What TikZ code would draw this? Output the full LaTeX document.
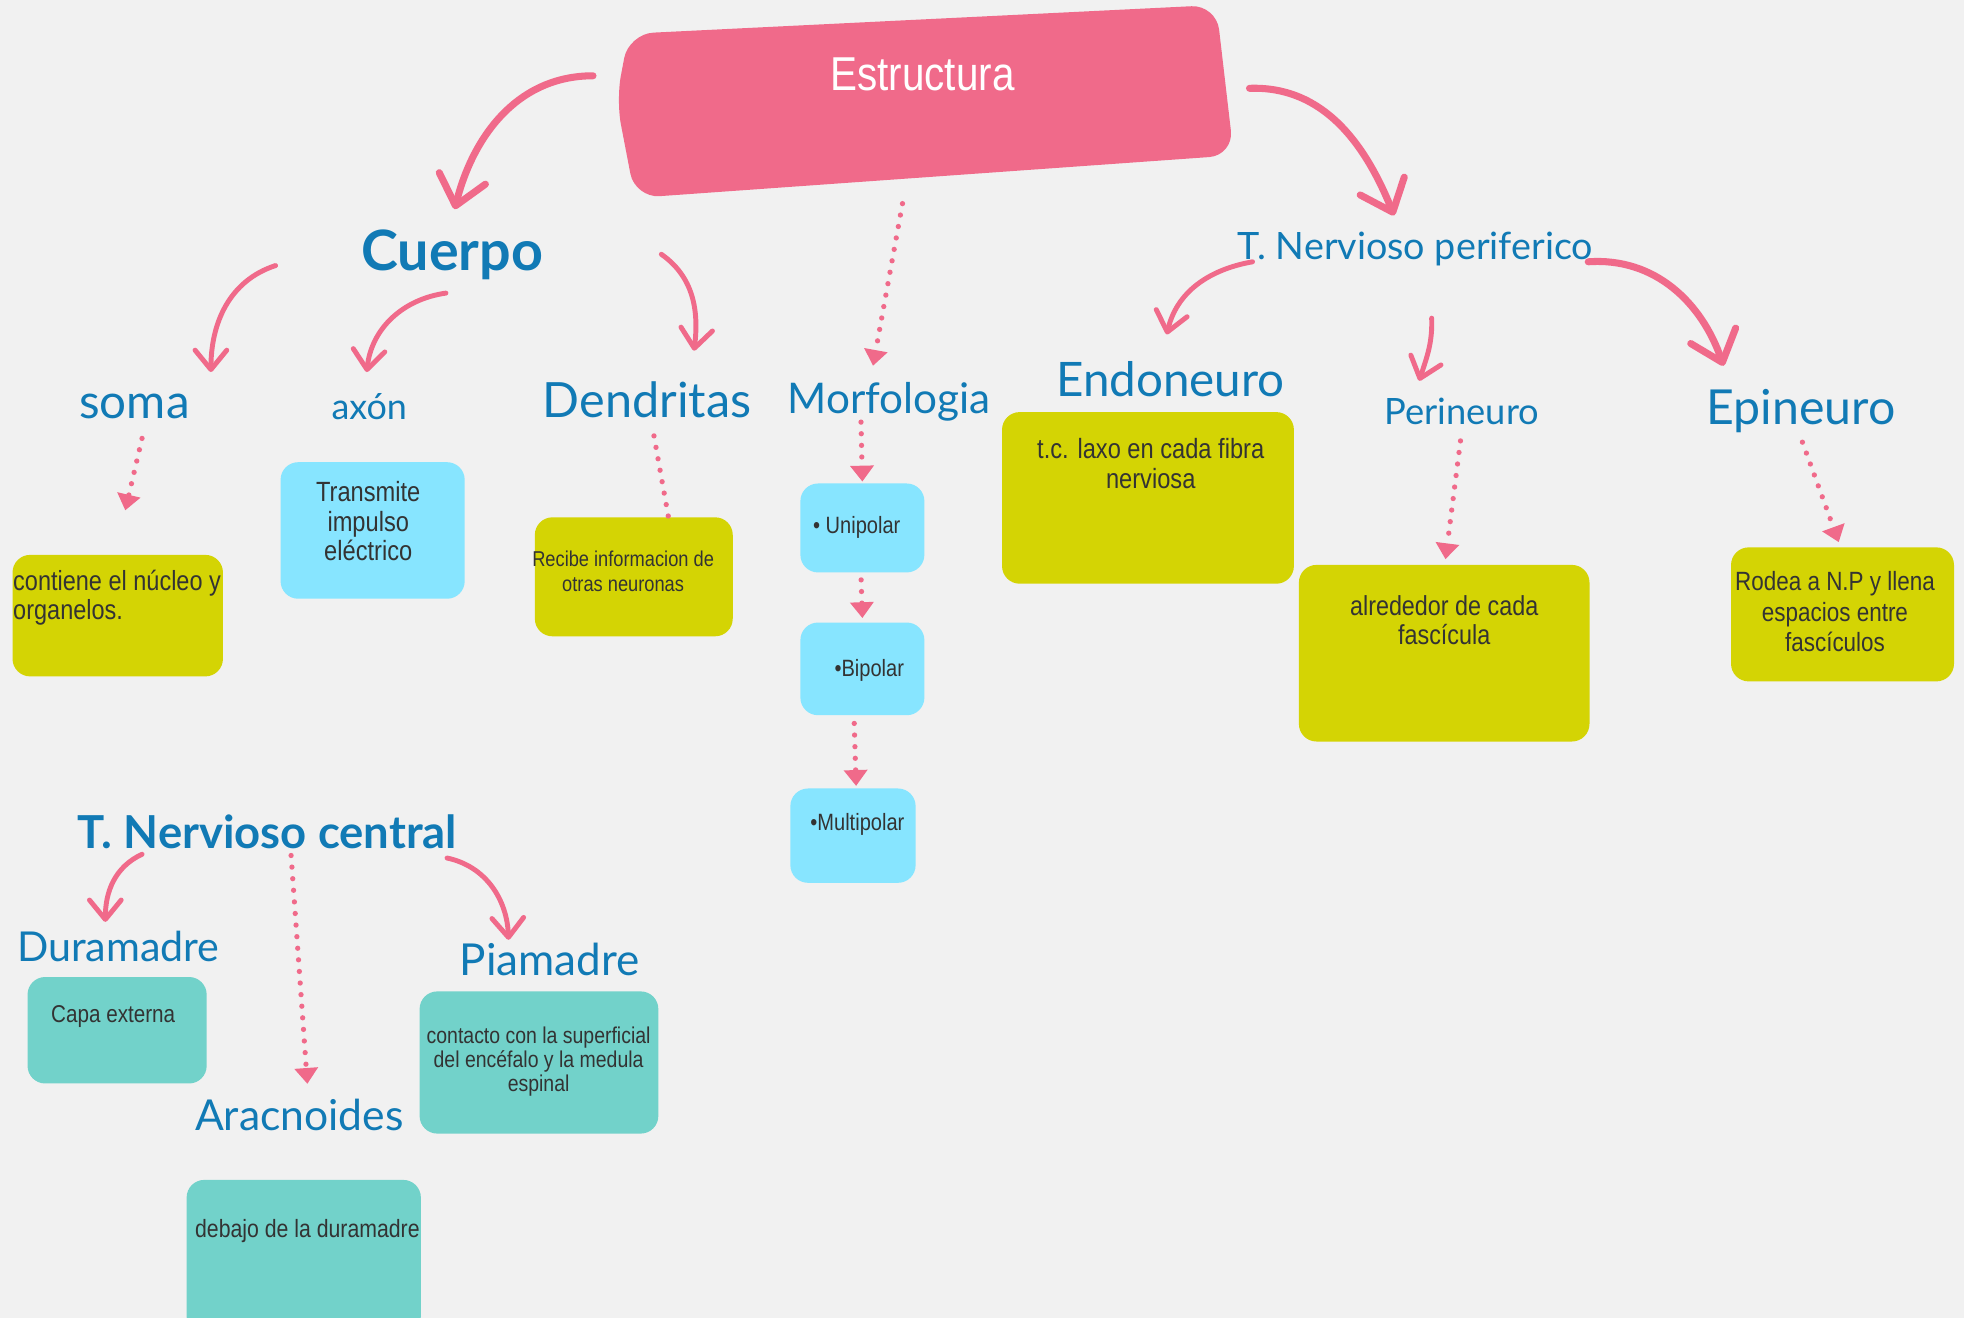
\documentclass[tikz,border=0pt]{standalone}
\usepackage{fontspec}
\usepackage{xcolor}
\usepackage{tikz}
\usetikzlibrary{arrows.meta, fit}
\newfontfamily\headfont{Lato}
\newfontfamily\bodyfont[FakeStretch=0.85]{Liberation Sans}
\definecolor{bgc}{RGB}{241,241,241}
\definecolor{pinkc}{RGB}{240,106,138}
\definecolor{bluec}{RGB}{17,122,181}
\definecolor{yellowc}{RGB}{212,212,4}
\definecolor{cyanc}{RGB}{135,229,255}
\definecolor{tealc}{RGB}{114,210,202}
\definecolor{darkc}{RGB}{51,51,51}
\newcommand{\hsz}[1]{\headfont\fontsize{#1}{#1}\selectfont}
\newcommand{\bsz}[2]{\bodyfont\fontsize{#1}{#2}\selectfont}

\begin{document}
\begin{tikzpicture}[x=0.125mm, y=-0.125mm,
	lbl/.style={inner sep=0pt, anchor=base, text=bluec},
	txt/.style={inner sep=0pt, text=darkc, align=center},
	ybox/.style={fill=yellowc, inner sep=0pt, rounded corners=5pt},
	cbox/.style={fill=cyanc, inner sep=0pt, rounded corners=5pt},
	tbox/.style={fill=tealc, inner sep=0pt, rounded corners=5pt},
	curvy/.style={draw=pinkc, line width=1.4pt, line cap=round, -{Straight Barb[length=5.5pt,width=9pt,round]}},
	bigcurvy/.style={curvy, line width=2pt, -{Straight Barb[length=8pt,width=13.5pt,round]}},
	dots/.style={draw=pinkc, line width=1.5pt, line cap=round, dash pattern=on 0pt off 3.3pt, -{Triangle[length=4.5pt,width=6.5pt]}}]
		\path[use as bounding box, fill=bgc] (0,0) rectangle (1568,1052);
		
		%% top box
		\fill[pinkc, rounded corners=7pt] (502,27) -- (971,4) -- (985,124) -- (507,158) -- (492,80) -- cycle;
		\node[inner sep=0pt, fit={(492,4) (985,158)}] (estrbox) {};
		\node[inner sep=0pt, anchor=base, text=white, font=\bsz{13.5}{14}] (estr) at (736.5,72.4) {Estructura};
		
		\node[lbl, font=\hsz{15.8}\bfseries] (cuerpo) at (361,216) {Cuerpo};
		\node[lbl, font=\hsz{13.5}] (soma) at (107.4,334.5) {soma};
		\node[lbl, font=\hsz{10.2}] (axon) at (294.8,334.6) {axón};
		\node[lbl, font=\hsz{13.8}] (dend) at (516.6,333.6) {Dendritas};
		\node[lbl, font=\hsz{12}] (morf) at (710,330) {Morfologia};
		\node[lbl, font=\hsz{10.7}] (tnp) at (1130,207) {T. Nervioso periferico};
		\node[lbl, font=\hsz{13.5}] (endo) at (934.5,316.6) {Endoneuro};
		\node[lbl, font=\hsz{10.3}] (peri) at (1167,338.6) {Perineuro};
		\node[lbl, font=\hsz{13.7}] (epi) at (1438,338.6) {Epineuro};
		\node[lbl, font=\hsz{12.9}\bfseries] (tnc) at (213.4,677.3) {T. Nervioso central};
		\node[lbl, font=\hsz{11.7}] (dura) at (94.4,767.3) {Duramadre};
		\node[lbl, font=\hsz{12.5}] (pia) at (439,778.7) {Piamadre};
		\node[lbl, font=\hsz{12.1}] (ara) at (239,902.8) {Aracnoides};
		
		\node[ybox, fit={(10,443) (178,540)}] (somabox) {};
		\node[txt, align=left, anchor=west, font=\bsz{7.85}{8.2}] (somatxt) at (10,477.5) {contiene el núcleo y\\organelos.};
		\node[cbox, fit={(224,369) (371,478)}] (axonbox) {};
		\node[txt, font=\bsz{7.9}{8.4}] (axontxt) at (294,416) {Transmite\\impulso\\eléctrico};
		\node[ybox, fit={(427,413) (585,508)}] (dendbox) {};
		\node[txt, font=\bsz{6.1}{6.9}] (dendtxt) at (497.5,456) {Recibe informacion de\\otras neuronas};
		\node[cbox, fit={(639,386) (738,457)}] (unibox) {};
		\node[txt, font=\bsz{6.7}{7}] (unitxt) at (684,421) {• Unipolar};
		\node[cbox, fit={(639,497) (738,571)}] (bibox) {};
		\node[txt, font=\bsz{6.7}{7}] (bitxt) at (694,535) {•Bipolar};
		\node[cbox, fit={(631,629.5) (731,704.8)}] (multibox) {};
		\node[txt, font=\bsz{6.7}{7}] (multitxt) at (684.5,658) {•Multipolar};
		\node[ybox, fit={(800,329) (1033,466)}] (endobox) {};
		\node[txt, font=\bsz{7.9}{8.5}] (endotxt) at (918.7,370) {t.c. laxo en cada fibra\\nerviosa};
		\node[ybox, fit={(1037,451) (1269,592)}] (peribox) {};
		\node[txt, font=\bsz{7.8}{8.3}] (peritxt) at (1153,495.4) {alrededor de cada\\fascícula};
		\node[ybox, fit={(1382,437) (1560,544)}] (epibox) {};
		\node[txt, font=\bsz{7.5}{8.7}] (epitxt) at (1465,488.5) {Rodea a N.P y llena\\espacios entre\\fascículos};
		\node[tbox, fit={(22,780) (165,865)}] (durabox) {};
		\node[txt, font=\bsz{6.9}{7.2}] (duratxt) at (90.4,811.4) {Capa externa};
		\node[tbox, fit={(335,791.5) (525.6,905)}] (piabox) {};
		\node[txt, font=\bsz{6.5}{6.8}] (piatxt) at (430,847.5) {contacto con la superficial\\del encéfalo y la medula\\espinal};
		\node[tbox, fit={(149,942) (336,1065)}] (arabox) {};
		\node[txt, font=\bsz{7.1}{7.4}] (aratxt) at (245.4,983.2) {debajo de la duramadre};
		
		%% curved arrows
		\draw[bigcurvy] ([shift={(-18,-20.5)}]estrbox.west) to[out=180,in=76] ([shift={(2,-49)}]cuerpo.base);
		\draw[bigcurvy] ([shift={(12,-10.5)}]estrbox.east) to[out=2,in=112] ([shift={(-17,-35)}]tnp.base);
		\draw[curvy] ([shift={(-141,-4)}]cuerpo.base) to[out=198,in=90] ([shift={(61,-37.5)}]soma.base);
		\draw[curvy] ([shift={(-5,18)}]cuerpo.base) to[out=188,in=84] ([shift={(-2,-37.6)}]axon.base);
		\draw[curvy] ([shift={(167,-13)}]cuerpo.base) to[out=-35,in=83] ([shift={(37.5,-53.6)}]dend.base);
		\draw[curvy] ([shift={(-130,2)}]tnp.base) to[out=190,in=77] ([shift={(-3,-49.6)}]endo.base);
		\draw[curvy] ([shift={(13,47)}]tnp.base) to[out=-88,in=72] ([shift={(-34,-34.6)}]peri.base);
		\draw[bigcurvy] ([shift={(138,2)}]tnp.base) to[out=4,in=109] ([shift={(-62,-46.6)}]epi.base);
		\draw[curvy] ([shift={(-100,4.7)}]tnc.base) to[out=205,in=90] ([shift={(-10.3,-31.3)}]dura.base);
		\draw[curvy] ([shift={(143.5,7.7)}]tnc.base) to[out=-12,in=92] ([shift={(-33,-28.4)}]pia.base);
		
		%% dotted arrows
		\draw[dots] ([shift={(-18,4)}]estrbox.south) -- ([shift={(-13,-38)}]morf.base);
		\draw[dots] ([shift={(6,15.5)}]soma.base) -- ([shift={(6,-35)}]somabox.north);
		\draw[dots, arrows=-] ([shift={(5.5,14.4)}]dend.base) -- ([shift={(27.6,0)}]dendbox.north);
		\draw[dots] ([shift={(-22.6,7)}]morf.base) -- ([shift={(0,-1)}]unibox.north);
		\draw[dots] ([shift={(-1,5.4)}]unibox.south) -- ([shift={(0,-3)}]bibox.north);
		\draw[dots] ([shift={(-6.5,6)}]bibox.south) -- ([shift={(2.5,-1.5)}]multibox.north);
		\draw[dots] ([shift={(-1,13.4)}]peri.base) -- ([shift={(1,-4)}]peribox.north);
		\draw[dots] ([shift={(1,14.4)}]epi.base) -- ([shift={(-3,-3.6)}]epibox.north);
		\draw[dots] ([shift={(19,5.7)}]tnc.base) -- ([shift={(6.4,-37.5)}]ara.base);
\end{tikzpicture}
\end{document}
